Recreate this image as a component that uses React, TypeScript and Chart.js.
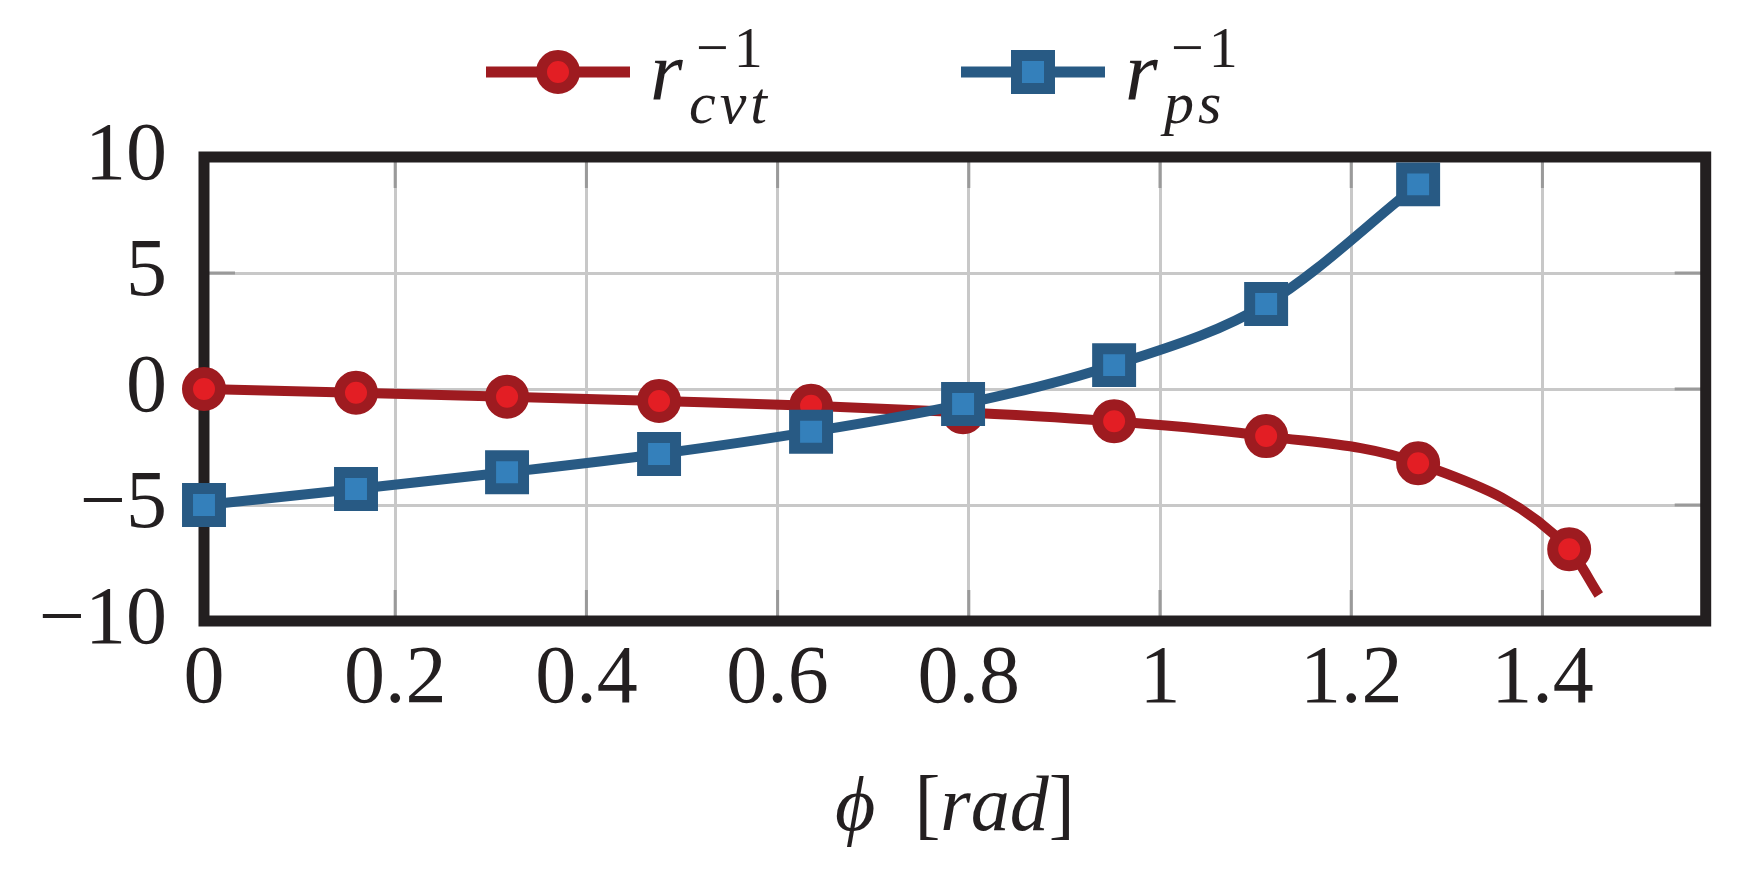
import { useEffect, useRef } from "react";
import { Chart, registerables } from "chart.js";

Chart.register(...registerables);

// sample angles (rad) where the markers sit
const phi = [0, 0.159, 0.317, 0.476, 0.635, 0.794, 0.952, 1.111, 1.27, 1.428];
const rCvtInv = [0, -0.16, -0.33, -0.52, -0.72, -1.0, -1.39, -2.03, -3.2, -6.91];
// red curve runs on a little past its last marker
const rCvtTailPhi = 1.459;
const rCvtTailValue = -8.88;
const rPsInv = [-5.0, -4.31, -3.59, -2.8, -1.84, -0.65, 1.03, 3.66, 8.82];

const xTicks = [0, 0.2, 0.4, 0.6, 0.8, 1, 1.2, 1.4];
const yTicks = [-10, -5, 0, 5, 10];

const legendItems = [
  { base: "r", sup: "\u22121", sub: "cvt" },
  { base: "r", sup: "\u22121", sub: "ps" },
];

const FONT = '"Liberation Serif", "DejaVu Serif", serif';
const INK = "#231f20";
const GRID = "#c8c8c8";
const TICK = "#9a9a9a";
const RED_LINE = "#9e1b20";
const RED_FILL = "#e31e24";
const BLUE_LINE = "#285a84";
const BLUE_FILL = "#3480bb";

function drawMarker(ctx: CanvasRenderingContext2D, kind: string, x: number, y: number) {
  ctx.lineWidth = 11;
  if (kind === "circle") {
    ctx.beginPath();
    ctx.arc(x, y, 16.5, 0, Math.PI * 2);
    ctx.fillStyle = RED_FILL;
    ctx.strokeStyle = RED_LINE;
    ctx.fill();
    ctx.stroke();
  } else {
    const h = 16.5;
    ctx.fillStyle = BLUE_FILL;
    ctx.strokeStyle = BLUE_LINE;
    ctx.fillRect(x - h, y - h, 2 * h, 2 * h);
    ctx.strokeRect(x - h, y - h, 2 * h, 2 * h);
  }
}

const framePlugin = {
  id: "frame",
  beforeDatasetsDraw(chart: Chart) {
    const { ctx, chartArea, scales } = chart;
    const { left, right, top, bottom } = chartArea;
    ctx.save();
    // short inward ticks on all four sides
    ctx.strokeStyle = TICK;
    ctx.lineWidth = 3;
    ctx.beginPath();
    xTicks.forEach((v) => {
      const px = scales.x.getPixelForValue(v);
      ctx.moveTo(px, bottom);
      ctx.lineTo(px, bottom - 31);
      ctx.moveTo(px, top);
      ctx.lineTo(px, top + 31);
    });
    yTicks.forEach((v) => {
      const py = scales.y.getPixelForValue(v);
      ctx.moveTo(left, py);
      ctx.lineTo(left + 31, py);
      ctx.moveTo(right, py);
      ctx.lineTo(right - 31, py);
    });
    ctx.stroke();
    ctx.strokeStyle = INK;
    ctx.lineWidth = 11;
    ctx.strokeRect(left, top, right - left, bottom - top);
    ctx.restore();
  },
  afterDraw(chart: Chart) {
    const { ctx, chartArea } = chart;
    ctx.save();

    // legend
    const starts = [486, 961];
    const kinds = ["circle", "rect"];
    const colors = [RED_LINE, BLUE_LINE];
    legendItems.forEach((item, i) => {
      const x0 = starts[i];
      const y = 72;
      ctx.strokeStyle = colors[i];
      ctx.lineWidth = 11;
      ctx.beginPath();
      ctx.moveTo(x0, y);
      ctx.lineTo(x0 + 144, y);
      ctx.stroke();
      drawMarker(ctx, kinds[i], x0 + 72, y);

      ctx.fillStyle = INK;
      ctx.textBaseline = "alphabetic";
      ctx.textAlign = "left";
      (ctx as any).letterSpacing = "0px";
      ctx.font = `italic 84px ${FONT}`;
      ctx.fillText(item.base, x0 + 164, 100);
      (ctx as any).letterSpacing = "5px";
      ctx.font = `58px ${FONT}`;
      ctx.fillText(item.sup, x0 + 210, 67);
      (ctx as any).letterSpacing = "4px";
      ctx.font = `italic 60px ${FONT}`;
      ctx.fillText(item.sub, x0 + 203, 123);
      (ctx as any).letterSpacing = "0px";
    });

    // x axis title: ϕ [rad]
    const parts = [
      { t: "\u03d5", it: true },
      { t: "  ", it: false },
      { t: "[", it: false },
      { t: "rad", it: true },
      { t: "]", it: false },
    ];
    const fontOf = (it: boolean) => `${it ? "italic " : ""}78px ${FONT}`;
    let total = 0;
    parts.forEach((p) => {
      ctx.font = fontOf(p.it);
      total += ctx.measureText(p.t).width;
    });
    let x = (chartArea.left + chartArea.right) / 2 - total / 2;
    ctx.fillStyle = INK;
    ctx.textAlign = "left";
    ctx.textBaseline = "alphabetic";
    parts.forEach((p) => {
      ctx.font = fontOf(p.it);
      ctx.fillText(p.t, x, 830);
      x += ctx.measureText(p.t).width;
    });

    ctx.restore();
  },
};

export default function App() {
  const canvasRef = useRef<HTMLCanvasElement>(null);
  const chartRef = useRef<Chart | null>(null);

  useEffect(() => {
    if (!canvasRef.current) return;
    if (chartRef.current) chartRef.current.destroy();

    const cvtData = phi
      .map((p, i) => ({ x: p, y: rCvtInv[i] }))
      .concat([{ x: rCvtTailPhi, y: rCvtTailValue }]);
    const psData = rPsInv.map((v, i) => ({ x: phi[i], y: v }));

    chartRef.current = new Chart(canvasRef.current, {
      type: "line",
      data: {
        datasets: [
          {
            label: "r_cvt^-1",
            data: cvtData,
            order: 2,
            borderColor: RED_LINE,
            borderWidth: 10,
            cubicInterpolationMode: "monotone",
            pointStyle: "circle",
            pointRadius: (c: any) => (c.dataIndex < rCvtInv.length ? 16.5 : 0),
            pointBorderWidth: 11,
            pointBackgroundColor: RED_FILL,
            pointBorderColor: RED_LINE,
            clip: false,
          },
          {
            label: "r_ps^-1",
            data: psData,
            order: 1,
            borderColor: BLUE_LINE,
            borderWidth: 10,
            cubicInterpolationMode: "monotone",
            pointStyle: "rect",
            pointRadius: 23.3,
            pointBorderWidth: 11,
            pointBackgroundColor: BLUE_FILL,
            pointBorderColor: BLUE_LINE,
            clip: false,
          },
        ],
      },
      options: {
        animation: false,
        responsive: true,
        maintainAspectRatio: false,
        layout: { padding: { top: 157, right: 29, left: 0, bottom: 0 } },
        plugins: {
          legend: { display: false },
          tooltip: { enabled: false },
        },
        scales: {
          x: {
            type: "linear",
            min: 0,
            max: Math.PI / 2,
            afterBuildTicks: (s: any) => {
              s.ticks = xTicks.map((v) => ({ value: v }));
            },
            afterFit: (s: any) => {
              s.height = 259;
            },
            grid: { color: GRID, lineWidth: 3, drawTicks: false },
            border: { display: false },
            ticks: {
              color: INK,
              padding: 10,
              maxRotation: 0,
              autoSkip: false,
              font: { family: FONT, size: 82 },
              callback: (v: any) => String(Number(v)),
            },
          },
          y: {
            type: "linear",
            min: -10,
            max: 10,
            afterBuildTicks: (s: any) => {
              s.ticks = yTicks.map((v) => ({ value: v }));
            },
            afterFit: (s: any) => {
              s.width = 204;
            },
            grid: { color: GRID, lineWidth: 3, drawTicks: false },
            border: { display: false },
            ticks: {
              color: INK,
              padding: 37,
              autoSkip: false,
              font: { family: FONT, size: 82 },
              callback: (v: any) => (v < 0 ? "\u2212" + Math.abs(v) : String(v)),
            },
          },
        },
      },
      plugins: [framePlugin],
    });

    return () => {
      if (chartRef.current) {
        chartRef.current.destroy();
        chartRef.current = null;
      }
    };
  }, []);

  return (
    <div
      style={{
        position: "fixed",
        left: 0,
        top: 0,
        width: 1740,
        height: 880,
        background: "#ffffff",
      }}
    >
      <canvas ref={canvasRef} />
    </div>
  );
}
